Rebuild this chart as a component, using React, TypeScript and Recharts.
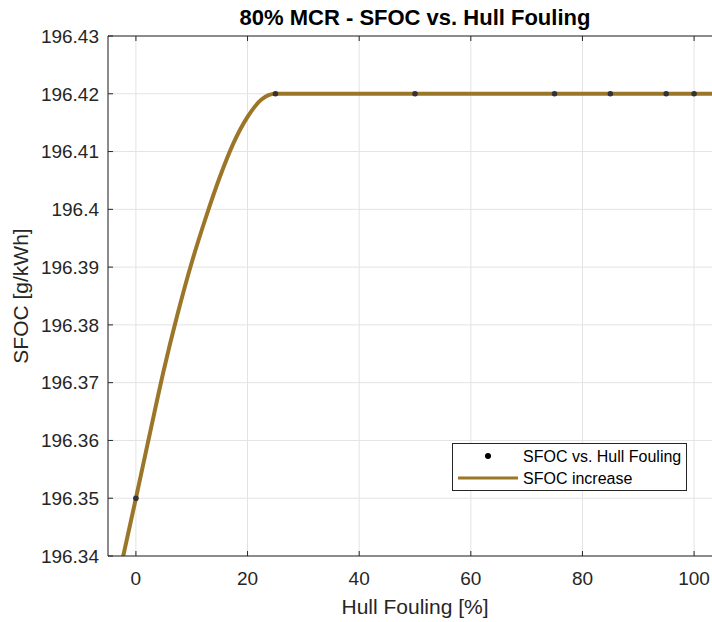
import React from "react";
import {
    CartesianGrid,
    ComposedChart,
    Line,
    Scatter,
    XAxis,
    YAxis,
} from "recharts";

// measured points (hull fouling % vs SFOC)
const hullFouling = [0, 25, 50, 75, 85, 95, 100];
const sfocMeasured = [196.35, 196.42, 196.42, 196.42, 196.42, 196.42, 196.42];

// fitted "SFOC increase" curve
const fitFouling = [-2.5, 0, 2.5, 5, 7.5, 10, 12.5, 15, 17.5, 20, 22.5, 25, 105];
const fitSfoc = [
    196.339, 196.35, 196.3612, 196.3722, 196.382, 196.3908, 196.3985, 196.4055,
    196.4115, 196.416, 196.419, 196.42, 196.42,
];

const xTicks = [0, 20, 40, 60, 80, 100];
const yTicks = [
    196.34, 196.35, 196.36, 196.37, 196.38, 196.39, 196.4, 196.41, 196.42,
    196.43,
];

const FONT = "'Liberation Sans', Arial, Helvetica, sans-serif";
const AXIS = "#262626";
const LINE_COLOR = "#9c7628";

const pointData = hullFouling.map((x, i) => ({ x, y: sfocMeasured[i] }));
const fitData = fitFouling.map((x, i) => ({ x, y: fitSfoc[i] }));

const renderTitle = () => (
    <text
        x={415}
        y={25}
        textAnchor="middle"
        fontFamily={FONT}
        fontSize={22}
        fontWeight="bold"
        fill="#000"
    >
        80% MCR - SFOC vs. Hull Fouling
    </text>
);

const renderXLabel = () => (
    <text
        x={415}
        y={614}
        textAnchor="middle"
        fontFamily={FONT}
        fontSize={21}
        fill={AXIS}
    >
        Hull Fouling [%]
    </text>
);

const renderYLabel = () => (
    <text
        x={28}
        y={296}
        textAnchor="middle"
        fontFamily={FONT}
        fontSize={21}
        fill={AXIS}
        transform="rotate(-90, 28, 296)"
    >
        SFOC [g/kWh]
    </text>
);

const ChartLegend = () => (
    <svg
        width={235}
        height={48}
        style={{ position: "absolute", left: 452, top: 443, display: "block" }}
    >
        <rect
            x={0.5}
            y={0.5}
            width={234}
            height={47}
            fill="#fff"
            stroke={AXIS}
        />
        <circle cx={36} cy={13} r={3} fill="#000" />
        <text x={71} y={13} dy="0.35em" fontFamily={FONT} fontSize={16} fill="#000">
            SFOC vs. Hull Fouling
        </text>
        <line x1={6} x2={66} y1={35} y2={35} stroke={LINE_COLOR} strokeWidth={3} />
        <text x={71} y={35} dy="0.35em" fontFamily={FONT} fontSize={16} fill="#000">
            SFOC increase
        </text>
    </svg>
);

const Dot = (props: any) => (
    <circle cx={props.cx} cy={props.cy} r={2.8} fill="#333" />
);

export default function App() {
    return (
        <div
            style={{
                position: "absolute",
                left: 0,
                top: 0,
                width: 712,
                height: 622,
                overflow: "hidden",
                background: "#fff",
                fontFamily: FONT,
            }}
        >
            <ComposedChart
                width={740}
                height={622}
                margin={{ top: 35, right: 18, bottom: 0, left: 0 }}
            >
                <CartesianGrid stroke="#e3e3e3" />
                <XAxis
                    xAxisId="top"
                    orientation="top"
                    dataKey="x"
                    type="number"
                    domain={[-5, 105]}
                    allowDataOverflow
                    ticks={xTicks}
                    height={1}
                    tickSize={-5}
                    tickFormatter={() => ""}
                    stroke={AXIS}
                    label={renderTitle}
                />
                <XAxis
                    dataKey="x"
                    type="number"
                    domain={[-5, 105]}
                    allowDataOverflow
                    ticks={xTicks}
                    height={66}
                    tickSize={-5}
                    tickMargin={21}
                    stroke={AXIS}
                    tick={{ fill: AXIS, fontSize: 19, fontFamily: FONT }}
                    label={renderXLabel}
                />
                <YAxis
                    dataKey="y"
                    type="number"
                    domain={[196.34, 196.43]}
                    allowDataOverflow
                    ticks={yTicks}
                    width={108}
                    tickSize={-5}
                    tickMargin={14}
                    stroke={AXIS}
                    tick={{ fill: AXIS, fontSize: 19, fontFamily: FONT }}
                    tickFormatter={(v: number) => String(+v.toFixed(2))}
                    label={renderYLabel}
                />
                <Line
                    data={fitData}
                    dataKey="y"
                    type="monotone"
                    stroke={LINE_COLOR}
                    strokeWidth={4}
                    dot={false}
                    activeDot={false}
                    isAnimationActive={false}
                />
                <Scatter
                    data={pointData}
                    dataKey="y"
                    shape={Dot}
                    isAnimationActive={false}
                />
            </ComposedChart>
            <ChartLegend />
        </div>
    );
}
